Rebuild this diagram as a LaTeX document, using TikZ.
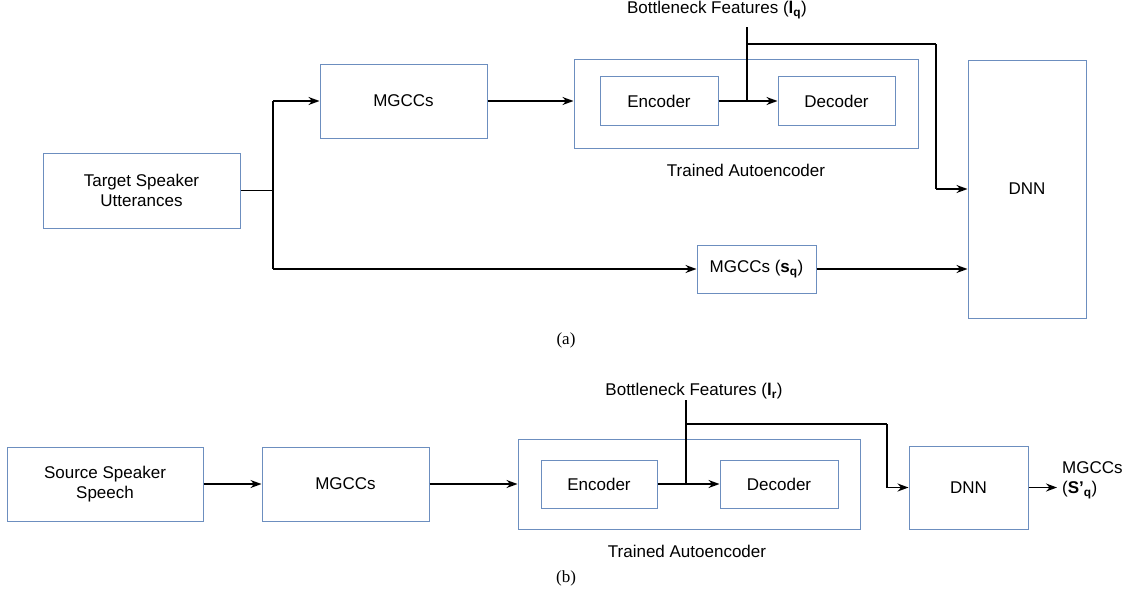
\documentclass[tikz,border=0pt]{standalone}
\usepackage{fontspec}
\setmainfont{Liberation Sans}
\newfontfamily\capfont{Liberation Serif}
\usetikzlibrary{arrows.meta}
\definecolor{boxblue}{HTML}{6C8EBF}
\tikzstyle{block}=[draw=boxblue,line width=1pt,inner sep=0pt,align=center,font=\fontsize{17}{20}\selectfont]
\tikzstyle{txt}=[inner sep=0pt,align=center,font=\fontsize{17}{20}\selectfont]
\tikzstyle{subcap}=[inner sep=0pt,font=\capfont\fontsize{17}{20}\selectfont]
\tikzstyle{wire}=[line width=1.5pt]
\tikzstyle{arrow}=[wire,-{Stealth[length=11pt,width=8pt]}]
\newcommand{\block}{\node[block]}

\begin{document}
\begin{tikzpicture}[x=1pt,y=-1pt]
			\useasboundingbox (0,0) rectangle (1131,595);
			% % % % % % % % % % % % % % % % % % % % % % % % % % % % %
			% (a) training
			\block [minimum width=197,minimum height=75] (utt) at (141.5,190.5) {Target Speaker\\Utterances};
			\block [minimum width=167,minimum height=74] (mga) at (403.5,101) {MGCCs};
			\block [minimum width=344,minimum height=89] (aea) at (746,103.5) {};
			\block [minimum width=118,minimum height=49] (enca) at (659,101) {Encoder};
			\block [minimum width=117,minimum height=49] (deca) at (836.5,101) {Decoder};
			\block [minimum width=118,minimum height=258] (dnna) at (1027,189) {DNN};
			\block [minimum width=119,minimum height=48] (sq) at (756.5,269) {MGCCs (\textbf{s}\textsubscript{\textbf{q}})};
			\node [txt] (aelabela) at (746,170) {Trained Autoencoder};
			\node [txt] (bna) at (717,10) {Bottleneck Features (\textbf{l}\textsubscript{\textbf{q}})};
			\node [subcap] (capa) at (566,340) {(a)};
			\coordinate (ja) at (273,190.5);
			\coordinate (ja1) at (273,101);
			\coordinate (ja2) at (273,269);
			\coordinate (ba1) at (747,27);
			\coordinate (ba2) at (747,101);
			\coordinate (ba3) at (747,44);
			\coordinate (ba4) at (936,44);
			\coordinate (ba5) at (936,189);
			%*********************
			% (b) conversion
			\block [minimum width=196,minimum height=74] (src) at (105,484) {Source Speaker\\Speech};
			\block [minimum width=167,minimum height=74] (mgb) at (345.5,484) {MGCCs};
			\block [minimum width=342,minimum height=90] (aeb) at (689,484) {};
			\block [minimum width=116,minimum height=48] (encb) at (599,484) {Encoder};
			\block [minimum width=118,minimum height=48] (decb) at (779,484) {Decoder};
			\block [minimum width=119,minimum height=83] (dnnb) at (968.5,487.5) {DNN};
			\node [txt] (aelabelb) at (687,551) {Trained Autoencoder};
			\node [txt] (bnb) at (694,391) {Bottleneck Features (\textbf{l}\textsubscript{\textbf{r}})};
			\node [txt,anchor=west,align=left] (outb) at (1062,480) {MGCCs\\(\textbf{S'}\textsubscript{\textbf{q}})};
			\node [subcap] (capb) at (566,578) {(b)};
			\coordinate (bb1) at (686,400);
			\coordinate (bb2) at (686,484);
			\coordinate (bb3) at (686,424);
			\coordinate (bb4) at (887,424);
			\coordinate (bb5) at (887,487.5);
			\coordinate (ob) at (1057,487.5);
			% % % % % % % % % % % % % % % % %
			\path
			(utt) edge [wire] (ja)
			(ja1) edge [wire] (ja2)
			(ja1) edge [arrow] (mga)
			(ja2) edge [arrow] (sq)
			(mga) edge [arrow] (aea.west |- mga)
			(enca) edge [arrow] (deca)
			(sq) edge [arrow] (dnna.west |- sq)
			(ba1) edge [wire] (ba2)
			(ba3) edge [wire] (ba4)
			(ba4) edge [wire] (ba5)
			(ba5) edge [arrow] (dnna)
			%*************
			(src) edge [arrow] (mgb)
			(mgb) edge [arrow] (aeb)
			(encb) edge [arrow] (decb)
			(bb1) edge [wire] (bb2)
			(bb3) edge [wire] (bb4)
			(bb4) edge [wire] (bb5)
			(bb5) edge [arrow] (dnnb)
			(dnnb) edge [arrow] (ob)
			;
\end{tikzpicture}
\end{document}
